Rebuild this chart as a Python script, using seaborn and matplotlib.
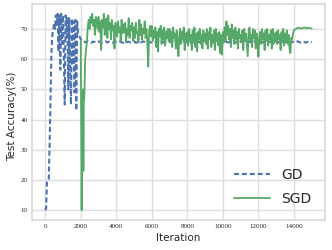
import numpy as np
import pandas as pd
import matplotlib
matplotlib.use('Agg')
import matplotlib.pyplot as plt
import seaborn as sns

# ---- data ----
gd_iter = np.concatenate([np.arange(0, 2101, 50), np.arange(2200, 15001, 100)])
gd_acc = [10, 10.5, 19.5, 20, 20.2, 32, 48, 62, 68, 69.5,
          72, 70, 74.5, 71, 75, 62.5, 74.5, 56.5, 75, 65,
          74.5, 60, 45, 74.5, 67, 74, 50, 73.5, 62, 45,
          73.5, 58, 72.5, 49, 73, 43, 72.5, 68.5, 68, 67.3,
          66.6, 66, 65.8,
          # plateau
          65.8, 65.5, 65.9, 65.6, 65.4, 65.8, 65.7, 65.5, 65.9, 65.6,
          65.4, 65.7, 65.9, 65.5, 65.8, 65.6, 65.4, 65.9, 65.7, 65.5,
          65.8, 65.6, 65.4, 65.9, 65.6, 65.8, 65.5, 65.7, 65.9, 65.4,
          65.6, 65.8, 65.5, 65.9, 65.7, 65.4, 65.8, 65.6, 65.5, 65.9,
          65.7, 65.4, 65.8, 65.6, 65.9, 65.5, 65.7, 65.4, 65.8, 65.6,
          65.9, 65.5, 65.7, 65.8, 65.4, 65.6, 65.9, 65.5, 65.7, 65.8,
          65.4, 65.6, 65.9, 65.5, 65.8, 65.7, 65.4, 65.6, 65.9, 65.5,
          65.8, 65.6, 65.4, 65.7, 65.9, 65.5, 65.8, 65.6, 65.4, 65.9,
          65.7, 65.5, 65.8, 65.6, 65.9, 65.4, 65.7, 65.5, 65.8, 65.6,
          65.9, 65.4, 65.7, 65.8, 65.5, 65.6, 65.9, 65.4, 65.8, 65.7,
          65.5, 65.6, 65.9, 65.4, 65.7, 65.8, 65.5, 65.6, 65.9, 65.7,
          65.4, 65.8, 65.6, 65.5, 65.9, 65.7, 65.4, 65.8, 65.6, 65.5,
          65.9, 65.7, 65.4, 65.8, 65.6, 65.5, 65.9, 65.7, 65.6]

sgd_iter = np.concatenate([np.arange(2000, 2176, 25), np.arange(2200, 2951, 50),
                           np.arange(3000, 13951, 50), np.arange(14000, 15001, 100)])
sgd_acc = [66, 40, 10, 35, 24, 50, 23, 48,
           47, 60, 63, 66, 71, 73, 70, 74, 72, 75, 71, 73, 68, 74, 72, 70,
           # 3000
           74, 69, 72.5, 63, 73, 70.5, 75, 68, 71.5, 73.5, 67, 74.5, 70, 72, 66.5, 73, 69.5, 71, 63.5, 72,
           # 4000
           71, 67.5, 72.5, 69, 70.5, 66, 73, 68.5, 71.5, 69, 72, 65.5, 70, 68, 73.5, 67, 71, 69.5, 72, 66,
           # 5000
           70.5, 67, 72, 68.5, 69, 65.5, 73, 68, 71.5, 66.5, 70, 68.5, 72.5, 67, 70, 65.5, 57.5, 69, 71, 67.5,
           # 6000
           71, 66, 69.5, 67, 70.5, 64, 69, 62.5, 70, 67.5, 71, 65, 69.5, 66.5, 70.5, 64.5, 69, 67, 70, 66,
           # 7000
           70, 65.5, 69, 64, 70.5, 67, 68.5, 63.5, 69.5, 66, 61, 68, 70, 65, 69, 66.5, 70.5, 63, 68.5, 66,
           # 8000
           69, 64.5, 70, 66, 68, 63, 69.5, 65.5, 70.5, 64, 68.5, 62.5, 69, 66.5, 70, 65, 68, 63.5, 69.5, 66,
           # 9000
           68.5, 65, 70, 63.5, 69, 66.5, 70.5, 64, 68, 65.5, 69.5, 63, 70, 66, 68.5, 64.5, 69, 62, 68, 61.5,
           # 10000
           69, 65.5, 70.5, 66, 72.5, 68, 71, 66.5, 70, 64, 71.5, 67, 69.5, 65, 70.5, 66.5, 69, 63.5, 70, 67,
           # 11000
           68, 65.5, 69.5, 63, 70, 66, 68.5, 64.5, 61, 69, 70.5, 66, 68, 64, 70, 67, 69.5, 63.5, 68.5, 66,
           # 12000
           60.8, 67, 69, 65, 70, 66.5, 68.5, 63, 69.5, 66, 70, 64.5, 68, 66.5, 69.5, 63.5, 70, 65, 68.5, 66,
           # 13000
           69, 65, 69.5, 66.5, 68, 63, 69, 66, 70, 64.5, 68.5, 66, 69.5, 65, 68, 63.5, 62, 67, 66.5, 68.5,
           # 14000
           69.5, 70, 70.2, 70.4, 70.1, 70.3, 70.5, 70.2, 70.4, 70.3, 70.1]

gd = pd.DataFrame({'iter': gd_iter, 'acc': gd_acc})
sgd = pd.DataFrame({'iter': sgd_iter, 'acc': sgd_acc})

# ---- plot ----
sns.set_theme(style='whitegrid', rc={'grid.color': '0.87', 'axes.edgecolor': '0.85'})
pal = sns.color_palette('deep')

fig, ax = plt.subplots(figsize=(3.32, 2.5), dpi=100)
fig.subplots_adjust(left=0.096, right=0.979, top=0.984, bottom=0.12)

sns.lineplot(data=gd, x='iter', y='acc', ax=ax, color=pal[0],
             linestyle=(0, (2.4, 1.4)), linewidth=1.5, label='GD')
sns.lineplot(data=sgd, x='iter', y='acc', ax=ax, color=pal[2], linewidth=1.3,
             label='SGD')

ax.set_xticks(range(0, 14001, 2000))
ax.set_yticks(range(10, 71, 10))
ax.tick_params(length=0, pad=3)
for lab in ax.get_xticklabels() + ax.get_yticklabels():
    lab.set_family('Liberation Serif')
    lab.set_fontsize(5)

ax.set_xlabel('Iteration', fontsize=7.5, labelpad=3)
ax.set_ylabel('Test Accuracy(%)', fontsize=7.5)
ax.yaxis.set_label_coords(-0.052, 0.48)

ax.legend(loc='lower right', fontsize=10, handlelength=2.6, frameon=False,
          borderaxespad=0.6, labelspacing=0.75)

fig.savefig('out.png', dpi=100)
